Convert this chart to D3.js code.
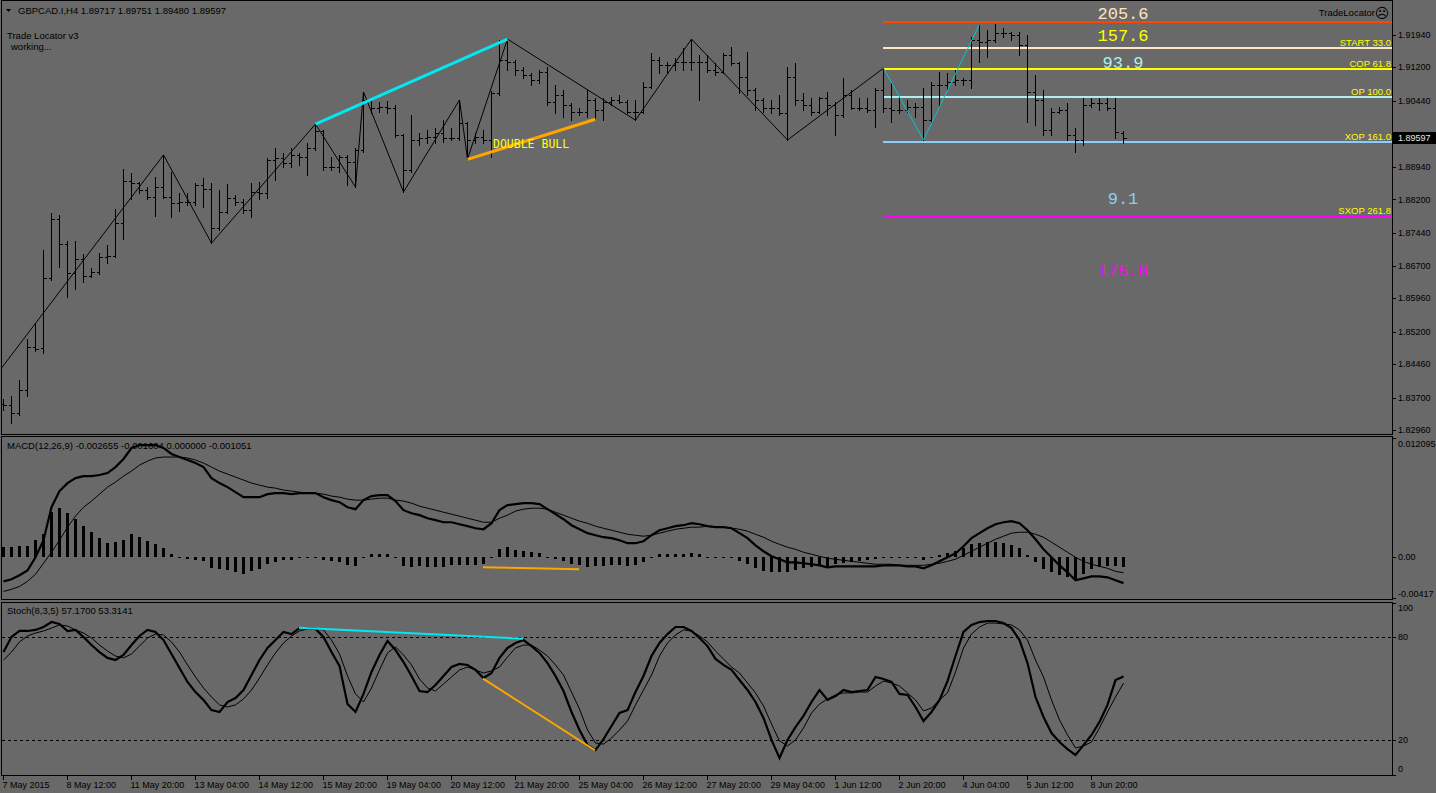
<!DOCTYPE html>
<html>
<head>
<meta charset="utf-8">
<title>GBPCAD.I,H4</title>
<script src="https://cdn.jsdelivr.net/npm/d3@7"></script>
<style>
  html, body { margin: 0; padding: 0; background: #696969; overflow: hidden; }
  svg { display: block; }
  text { font-family: "Liberation Sans", Arial, sans-serif; fill: #000; }
</style>
</head>
<body>
<svg id="chart" width="1436" height="793"></svg>
<script>
// ---------- price bars (H4) ----------
const opens = [
  1.8356,1.8353,1.8335,1.8388,1.8485,1.8483,1.8642,1.8776,1.8719,1.8653,
  1.8685,1.8646,1.8655,1.8689,1.8692,1.8767,1.8862,1.8857,1.8842,1.8826,
  1.8848,1.8826,1.8812,1.8814,1.8814,1.8853,1.8844,1.8755,1.8792,1.8823,
  1.8814,1.8796,1.8837,1.8835,1.8910,1.8914,1.8903,1.8921,1.8916,1.8937,
  1.8975,1.8894,1.8894,1.8916,1.8905,1.8932,1.9046,1.9028,1.9030,1.9028,
  1.8966,1.8887,1.8955,1.8960,1.8962,1.8971,1.8960,1.8960,1.8994,1.8955,
  1.8962,1.8955,1.9062,1.9137,1.9132,1.9114,1.9103,1.9091,1.9109,1.9041,
  1.9057,1.9034,1.9019,1.9019,1.9046,1.9023,1.9041,1.9046,1.9041,1.9019,
  1.9019,1.9075,1.9137,1.9125,1.9125,1.9132,1.9132,1.9132,1.9132,1.9114,
  1.9109,1.9148,1.9130,1.9098,1.9068,1.9046,1.9028,1.9028,1.9016,1.9098,
  1.9046,1.9034,1.9019,1.9050,1.9034,1.9012,1.9057,1.9028,1.9028,1.9023,
  1.9068,1.9028,1.9023,1.9023,1.9030,1.9030,1.9000,1.9080,1.9080,1.9087,
  1.9091,1.9091,1.9182,1.9177,1.9182,1.9198,1.9198,1.9193,1.9171,1.9064,
  1.9046,1.8978,1.9019,1.9023,1.8966,1.8955,1.9034,1.9039,1.9039,1.9028,
  1.89717
];
const highs = [
  1.8367,1.8374,1.8410,1.8503,1.8540,1.8705,1.8789,1.8785,1.8726,1.8726,
  1.8696,1.8664,1.8698,1.8717,1.8798,1.8889,1.8880,1.8860,1.8848,1.8871,
  1.8921,1.8882,1.8835,1.8835,1.8857,1.8869,1.8857,1.8842,1.8855,1.8830,
  1.8821,1.8857,1.8860,1.8914,1.8937,1.8926,1.8937,1.8926,1.8948,1.8991,
  1.8978,1.8916,1.8921,1.8921,1.8937,1.9064,1.9050,1.9041,1.9044,1.9034,
  1.8969,1.9012,1.8971,1.8978,1.8982,1.9000,1.8982,1.9046,1.8996,1.8971,
  1.8978,1.9066,1.9182,1.9184,1.9137,1.9121,1.9107,1.9114,1.9121,1.9080,
  1.9068,1.9039,1.9028,1.9068,1.9050,1.9050,1.9053,1.9057,1.9046,1.9046,
  1.9087,1.9152,1.9143,1.9132,1.9141,1.9164,1.9184,1.9148,1.9148,1.9130,
  1.9152,1.9166,1.9132,1.9155,1.9073,1.9050,1.9046,1.9057,1.9121,1.9130,
  1.9062,1.9050,1.9053,1.9064,1.9041,1.9096,1.9068,1.9050,1.9050,1.9073,
  1.9118,1.9084,1.9053,1.9046,1.9039,1.9073,1.9087,1.9109,1.9107,1.9114,
  1.9096,1.9189,1.9218,1.9205,1.9218,1.9209,1.9200,1.9200,1.9193,1.9103,
  1.9068,1.9028,1.9030,1.9039,1.8982,1.9050,1.9050,1.9050,1.9050,1.9050,
  1.89751
];
const lows = [
  1.8342,1.8313,1.8331,1.8374,1.8476,1.8471,1.8637,1.8667,1.8599,1.8617,
  1.8633,1.8644,1.8651,1.8676,1.8690,1.8730,1.8821,1.8835,1.8821,1.8782,
  1.8823,1.8780,1.8794,1.8807,1.8807,1.8803,1.8721,1.8751,1.8789,1.8807,
  1.8789,1.8780,1.8821,1.8823,1.8864,1.8894,1.8894,1.8898,1.8876,1.8932,
  1.8887,1.8887,1.8882,1.8853,1.8848,1.8928,1.9016,1.9019,1.9016,1.8962,
  1.8837,1.8882,1.8944,1.8948,1.8948,1.8950,1.8955,1.8955,1.8912,1.8948,
  1.8948,1.8916,1.9057,1.9114,1.9103,1.9096,1.9080,1.9084,1.9034,1.9016,
  1.9007,1.9000,1.9012,1.9007,1.9000,1.9000,1.9034,1.9039,1.9016,1.9000,
  1.9016,1.9073,1.9107,1.9109,1.9114,1.9114,1.9114,1.9046,1.9109,1.9103,
  1.9107,1.9125,1.9062,1.9057,1.9023,1.9019,1.9016,1.9012,1.8955,1.9034,
  1.9023,1.9012,1.9016,1.9012,1.8966,1.9007,1.9025,1.9023,1.9019,1.8985,
  1.9019,1.8996,1.9016,1.9019,1.9007,1.8955,1.8994,1.9030,1.9068,1.9080,
  1.9080,1.9073,1.9132,1.9143,1.9177,1.9189,1.9182,1.9148,1.8996,1.8989,
  1.8966,1.8966,1.9016,1.8955,1.8928,1.8944,1.9030,1.9023,1.9023,1.8960,
  1.89480
];
const closes = [
  1.8353,1.8335,1.8388,1.8485,1.8481,1.8642,1.8776,1.8719,1.8653,1.8685,
  1.8646,1.8655,1.8689,1.8692,1.8767,1.8862,1.8857,1.8842,1.8826,1.8848,
  1.8826,1.8812,1.8814,1.8814,1.8853,1.8844,1.8755,1.8792,1.8823,1.8814,
  1.8796,1.8837,1.8835,1.8910,1.8914,1.8903,1.8921,1.8916,1.8937,1.8975,
  1.8894,1.8894,1.8916,1.8905,1.8932,1.9046,1.9028,1.9030,1.9028,1.8966,
  1.8887,1.8955,1.8960,1.8962,1.8971,1.8960,1.8960,1.8994,1.8955,1.8962,
  1.8955,1.9062,1.9137,1.9132,1.9114,1.9103,1.9091,1.9109,1.9041,1.9057,
  1.9034,1.9019,1.9019,1.9046,1.9023,1.9041,1.9046,1.9041,1.9019,1.9019,
  1.9075,1.9137,1.9125,1.9125,1.9132,1.9132,1.9132,1.9132,1.9114,1.9109,
  1.9148,1.9130,1.9098,1.9068,1.9046,1.9028,1.9028,1.9016,1.9098,1.9046,
  1.9034,1.9019,1.9050,1.9034,1.9012,1.9057,1.9028,1.9028,1.9023,1.9068,
  1.9028,1.9023,1.9023,1.9030,1.9030,1.9000,1.9080,1.9080,1.9087,1.9091,
  1.9091,1.9182,1.9177,1.9182,1.9198,1.9198,1.9193,1.9171,1.9064,1.9046,
  1.8978,1.9019,1.9023,1.8966,1.8955,1.9034,1.9039,1.9039,1.9028,1.8973,
  1.89597
];

// time labels, one every 8 bars
const timeLabels = ["7 May 2015","8 May 12:00","11 May 20:00","13 May 04:00","14 May 12:00",
  "15 May 20:00","19 May 04:00","20 May 12:00","21 May 20:00","25 May 04:00","26 May 12:00",
  "27 May 20:00","29 May 04:00","1 Jun 12:00","2 Jun 20:00","4 Jun 04:00","5 Jun 12:00","8 Jun 20:00"];
// 1.89700 sits under the bid box, so only its tick mark shows
const priceTicks = [1.91940,1.91200,1.90440,1.89700,1.88940,1.88200,1.87440,1.86700,1.85960,1.85200,1.84460,1.83700,1.82960];
const hiddenPriceTick = 1.89700;

// zigzag pivots [bar, price]; first one lies left of the window
const zigzag = [[-7,1.8276],[20,1.8921],[26,1.8721],[39,1.8991],[44,1.8848],[45,1.9064],[50,1.8837],
  [57,1.9046],[58,1.8912],[63,1.9184],[79,1.9000],[86,1.9184],[98,1.8955],[110,1.9118]];
const patternLegs = [[110,1.9118],[115,1.8955],[122,1.9218]];
const priceCyan = [[39,1.8991],[63,1.9184]];
const priceOrange = [[58,1.8911],[74,1.9002]];

// Trade Locator levels
const levelPrices = [1.92228,1.91645,1.91161,1.90526,1.89504,1.87824];
const levelNames = ["","START 33.0","COP 61.8","OP 100.0","XOP 161.0","SXOP 261.8"];
const levelColors = ["#ff4500","#ffe4c4","#ffff00","#afeeee","#87cefa","#ff00ff"];
const levelStartBar = 110;
const bigTexts = ["205.6","157.6","93.9","9.1","175.8"];
const bigTextPrices = [1.92296,1.91804,1.91184,1.88097,1.86463];
const bigTextColors = ["#ffe4c4","#ffff00","#afeeee","#87cefa","#ff00ff"];

// MACD(12,26,9)
const macdMain = [
  -0.00248,-0.00227,-0.00186,-0.00136,-0.00003,0.00170,0.00506,0.00670,0.00751,0.00802,
  0.00822,0.00822,0.00833,0.00853,0.00914,0.00996,0.01108,0.01138,0.01138,0.01138,
  0.01108,0.01047,0.01016,0.00985,0.00955,0.00914,0.00802,0.00751,0.00710,0.00659,
  0.00608,0.00608,0.00608,0.00639,0.00649,0.00649,0.00639,0.00649,0.00649,0.00649,
  0.00608,0.00578,0.00557,0.00506,0.00486,0.00578,0.00619,0.00629,0.00629,0.00568,
  0.00476,0.00445,0.00425,0.00394,0.00374,0.00353,0.00353,0.00333,0.00313,0.00292,
  0.00282,0.00343,0.00476,0.00527,0.00537,0.00547,0.00547,0.00537,0.00486,0.00435,
  0.00384,0.00323,0.00282,0.00242,0.00221,0.00201,0.00191,0.00170,0.00140,0.00140,
  0.00160,0.00221,0.00272,0.00292,0.00313,0.00323,0.00343,0.00333,0.00313,0.00303,
  0.00303,0.00292,0.00242,0.00191,0.00119,0.00058,0.00007,-0.00023,-0.00054,-0.00054,
  -0.00064,-0.00074,-0.00085,-0.00105,-0.00095,-0.00095,-0.00095,-0.00095,-0.00095,-0.00095,
  -0.00085,-0.00085,-0.00085,-0.00095,-0.00095,-0.00115,-0.00085,-0.00044,-0.00003,0.00038,
  0.00109,0.00191,0.00242,0.00292,0.00333,0.00353,0.00364,0.00343,0.00272,0.00180,
  0.00078,-0.00003,-0.00085,-0.00156,-0.00237,-0.00217,-0.00197,-0.00197,-0.00207,-0.00237,
  -0.002655
];
const macdSignal = [
  -0.00350,-0.00329,-0.00299,-0.00248,-0.00176,-0.00064,0.00048,0.00170,0.00303,0.00415,
  0.00506,0.00568,0.00639,0.00710,0.00761,0.00822,0.00873,0.00934,0.00975,0.01006,
  0.01016,0.01016,0.01016,0.01006,0.00985,0.00955,0.00914,0.00873,0.00843,0.00812,
  0.00782,0.00751,0.00731,0.00710,0.00700,0.00680,0.00670,0.00659,0.00649,0.00649,
  0.00639,0.00619,0.00608,0.00588,0.00578,0.00578,0.00588,0.00598,0.00598,0.00578,
  0.00568,0.00547,0.00517,0.00496,0.00476,0.00455,0.00435,0.00415,0.00394,0.00374,
  0.00353,0.00353,0.00394,0.00425,0.00466,0.00486,0.00496,0.00496,0.00486,0.00455,
  0.00425,0.00394,0.00364,0.00343,0.00313,0.00292,0.00272,0.00252,0.00231,0.00221,
  0.00211,0.00221,0.00242,0.00262,0.00282,0.00292,0.00303,0.00303,0.00313,0.00303,
  0.00303,0.00292,0.00282,0.00262,0.00231,0.00201,0.00160,0.00129,0.00099,0.00078,
  0.00048,0.00028,0.00007,-0.00013,-0.00023,-0.00034,-0.00044,-0.00054,-0.00064,-0.00074,
  -0.00074,-0.00074,-0.00085,-0.00085,-0.00085,-0.00085,-0.00074,-0.00064,-0.00044,-0.00023,
  0.00017,0.00058,0.00099,0.00140,0.00180,0.00211,0.00242,0.00252,0.00252,0.00231,
  0.00201,0.00150,0.00099,0.00048,-0.00003,-0.00044,-0.00074,-0.00095,-0.00115,-0.00146,
  -0.001604
];
const macdTicks = [0.012095, 0, -0.00417];
const macdOrange = [[60,-0.00105],[72,-0.00125]];

// Stoch(8,3,5)
const stochMain = [
  71.4,80.2,83.7,83.7,84.3,86.0,88.9,87.8,83.7,84.3,
  80.2,75.5,71.4,68.0,66.8,69.7,75.5,80.8,84.3,83.1,
  78.4,70.3,62.1,54.0,48.1,43.5,37.6,36.5,42.3,44.6,
  49.3,58.0,66.8,73.8,78.4,83.1,81.9,85.4,85.4,84.9,
  80.2,71.4,63.3,41.1,36.5,47.0,59.8,69.7,77.9,72.6,
  65.6,57.5,48.7,48.1,52.2,57.5,62.7,64.5,63.9,61.0,
  56.3,59.2,68.0,73.8,76.7,78.4,74.9,70.9,65.0,57.5,
  48.7,36.5,26.0,17.2,14.3,20.7,28.3,35.9,37.6,48.1,
  57.5,69.1,76.7,81.9,86.0,86.0,83.7,79.6,74.9,67.4,
  63.9,61.0,55.1,49.3,42.3,33.0,20.2,9.7,20.2,27.7,
  34.2,42.3,49.3,43.5,45.8,49.3,48.1,48.7,49.3,56.9,
  55.7,54.0,47.0,46.4,39.4,31.2,36.5,43.5,54.5,69.1,
  83.1,87.2,88.9,89.5,89.5,88.3,85.4,78.4,65.0,45.2,
  33.6,24.2,19.0,14.9,11.4,17.2,23.1,30.7,40.6,55.1,
  57.17
];
const stochSignal = [
  66.8,71.4,77.3,80.8,82.5,83.7,85.4,87.2,86.6,84.3,
  82.5,79.6,75.5,72.0,69.1,68.0,70.3,74.9,79.6,81.9,
  81.4,77.3,71.4,63.9,56.9,50.5,45.2,40.6,39.4,40.6,
  44.1,49.3,56.3,63.9,70.9,76.7,80.8,83.7,84.9,84.9,
  84.3,78.4,70.3,57.5,47.0,42.3,50.5,61.0,70.9,74.4,
  69.7,63.9,55.7,50.5,48.7,52.8,56.9,61.0,62.7,61.0,
  59.2,60.4,62.7,68.5,73.8,75.5,75.5,72.6,69.1,63.9,
  58.0,48.1,38.2,26.0,18.4,17.8,21.3,26.0,31.2,40.6,
  49.3,58.0,69.1,76.7,81.4,84.3,83.7,80.8,77.3,72.0,
  67.4,62.7,59.2,53.4,47.6,40.0,29.5,19.6,16.7,20.2,
  27.2,35.9,41.1,44.1,46.4,47.6,47.6,48.1,48.1,51.6,
  54.5,53.4,51.6,47.6,43.5,37.1,38.8,43.5,47.6,59.8,
  73.8,81.9,86.0,88.3,88.3,87.8,87.2,84.3,78.4,66.8,
  56.9,43.5,31.8,23.1,15.5,16.7,19.0,27.2,36.5,45.2,
  53.3141
];
const stochTicks = [100, 80, 20, 0];
const stochLevels = [80, 20];
const stochCyan = [[37,85.6],[65,79.2]];
const stochOrange = [[60,55.9],[74,14.2]];


// ---------- layout ----------
const svg = d3.select("#chart");
const right = 1392;
const panels = {
  main:  {top: 0, bottom: 434},
  macd:  {top: 436, bottom: 599},
  stoch: {top: 602, bottom: 775}
};

const x = d3.scaleLinear().domain([0, 140]).range([3, 1123]);
const yPrice = d3.scaleLinear().domain([1.8296, 1.9194]).range([430.3, 34.7]);
const yMacd = d3.scaleLinear().domain([-0.00417, 0.012095]).range([598, 438]);
const yStoch = d3.scaleLinear().domain([0, 100]).range([774.6, 603]);

const crisp = (v) => Math.round(v) + 0.5;

svg.append("rect").attr("width", 1436).attr("height", 793).attr("fill", "#696969");

let defs = svg.append("defs");
Object.entries(panels).forEach(([name, p]) => {
  defs.append("clipPath").attr("id", "clip-" + name)
    .append("rect").attr("x", 2).attr("y", p.top + 1)
    .attr("width", right - 2).attr("height", p.bottom - p.top - 1);
});

let gMain = svg.append("g").attr("clip-path", "url(#clip-main)");
let gMacd = svg.append("g").attr("clip-path", "url(#clip-macd)");
let gStoch = svg.append("g").attr("clip-path", "url(#clip-stoch)");


// ---------- main window ----------
// Trade Locator levels
levelPrices.forEach((p, k) => {
  gMain.append("line")
    .attr("x1", x(levelStartBar)).attr("x2", right)
    .attr("y1", Math.round(yPrice(p))).attr("y2", Math.round(yPrice(p)))
    .attr("stroke", levelColors[k]).attr("stroke-width", 2);
  if (levelNames[k]) {
    gMain.append("text")
      .attr("x", right - 1).attr("y", Math.round(yPrice(p)) - 2)
      .attr("text-anchor", "end").attr("font-size", 9.5)
      .style("fill", "#ffff00").text(levelNames[k]);
  }
});

bigTexts.forEach((t, k) => {
  gMain.append("text")
    .attr("x", x(140)).attr("y", yPrice(bigTextPrices[k]))
    .attr("text-anchor", "middle")
    .style("font-family", '"Liberation Mono", "DejaVu Sans Mono", monospace')
    .attr("font-size", 17).style("fill", bigTextColors[k]).text(t);
});

// zigzag
let priceLine = d3.line().x(d => x(d[0]) + 0.5).y(d => yPrice(d[1]));
gMain.append("path").attr("d", priceLine(zigzag))
  .attr("fill", "none").attr("stroke", "#000").attr("stroke-width", 1);

// OHLC bars
gMain.append("g").attr("shape-rendering", "crispEdges")
  .selectAll("path").data(opens).join("path")
  .attr("d", (o, i) => {
    let cx = x(i) + 0.5;
    let yo = crisp(yPrice(o)), yc = crisp(yPrice(closes[i]));
    return `M${cx},${Math.round(yPrice(highs[i]))}V${Math.round(yPrice(lows[i])) + 1}` +
      `M${cx - 3},${yo}H${cx}M${cx},${yc}H${cx + 3}`;
  })
  .attr("stroke", "#000").attr("stroke-width", 1).attr("fill", "none");

gMain.append("path").attr("d", priceLine(patternLegs))
  .attr("fill", "none").attr("stroke", "#00c8d2").attr("stroke-width", 1);
gMain.append("path").attr("d", priceLine(priceCyan))
  .attr("fill", "none").attr("stroke", "#00e8f0").attr("stroke-width", 3);
gMain.append("path").attr("d", priceLine(priceOrange))
  .attr("fill", "none").attr("stroke", "#ffa500").attr("stroke-width", 3);

gMain.append("text")
  .attr("x", x(61) + 2).attr("y", yPrice(1.8937))
  .style("font-family", '"DejaVu Sans Mono", "Liberation Mono", monospace')
  .attr("font-size", 11.5).style("fill", "#ffff00").text("DOUBLE BULL");

// header texts
svg.append("path").attr("d", "M6,9L11,9L8.5,12Z").attr("fill", "#000");
svg.append("text").attr("x", 18).attr("y", 14).attr("font-size", 9.5)
  .text("GBPCAD.I,H4  1.89717 1.89751 1.89480 1.89597");
svg.append("text").attr("x", 7).attr("y", 39).attr("font-size", 9.5).text("Trade Locator v3");
svg.append("text").attr("x", 11).attr("y", 50).attr("font-size", 9.5).text("working...");
svg.append("text").attr("x", 1375).attr("y", 16).attr("font-size", 9.5)
  .attr("text-anchor", "end").text("TradeLocator");
svg.append("text").attr("x", 1382).attr("y", 17.5).attr("font-size", 14)
  .attr("text-anchor", "middle").style("font-family", '"DejaVu Sans", sans-serif').text("\u2639");


// ---------- MACD window ----------
let macdLine = d3.line().x((d, i) => x(i) + 0.5).y(d => yMacd(d));
// histogram = main - signal
gMacd.append("g").attr("shape-rendering", "crispEdges")
  .selectAll("rect").data(macdMain).join("rect")
  .attr("x", (d, i) => x(i) - 1)
  .attr("width", 3)
  .attr("y", (d, i) => Math.round(Math.min(yMacd(0), yMacd(d - macdSignal[i]))))
  .attr("height", (d, i) => Math.max(1, Math.round(Math.abs(yMacd(d - macdSignal[i]) - yMacd(0)))))
  .attr("fill", "#000");
gMacd.append("path").attr("d", macdLine(macdSignal))
  .attr("fill", "none").attr("stroke", "#000").attr("stroke-width", 1);
gMacd.append("path").attr("d", macdLine(macdMain))
  .attr("fill", "none").attr("stroke", "#000").attr("stroke-width", 2.2);
gMacd.append("path")
  .attr("d", d3.line().x(d => x(d[0])).y(d => yMacd(d[1]))(macdOrange))
  .attr("fill", "none").attr("stroke", "#ffa500").attr("stroke-width", 2);
svg.append("text").attr("x", 7).attr("y", 449).attr("font-size", 9.5)
  .text("MACD(12,26,9) -0.002655 -0.001604 0.000000 -0.001051");


// ---------- Stoch window ----------
let stochLine = d3.line().x((d, i) => x(i) + 0.5).y(d => yStoch(d));
stochLevels.forEach(v => {
  gStoch.append("line").attr("x1", 2).attr("x2", right)
    .attr("y1", crisp(yStoch(v))).attr("y2", crisp(yStoch(v)))
    .attr("stroke", "#000").attr("stroke-dasharray", "3,3");
});
gStoch.append("path").attr("d", stochLine(stochSignal))
  .attr("fill", "none").attr("stroke", "#000").attr("stroke-width", 1);
gStoch.append("path").attr("d", stochLine(stochMain))
  .attr("fill", "none").attr("stroke", "#000").attr("stroke-width", 2.2);
let stochSeg = d3.line().x(d => x(d[0])).y(d => yStoch(d[1]));
gStoch.append("path").attr("d", stochSeg(stochCyan))
  .attr("fill", "none").attr("stroke", "#00e8f0").attr("stroke-width", 2);
gStoch.append("path").attr("d", stochSeg(stochOrange))
  .attr("fill", "none").attr("stroke", "#ffa500").attr("stroke-width", 2);
svg.append("text").attr("x", 7).attr("y", 614).attr("font-size", 9.5)
  .text("Stoch(8,3,5) 57.1700 53.3141");


// ---------- frames ----------
Object.values(panels).forEach(p => {
  svg.append("rect").attr("x", 1.5).attr("y", p.top + 0.5)
    .attr("width", right - 1).attr("height", p.bottom - p.top)
    .attr("fill", "none").attr("stroke", "#000").attr("shape-rendering", "crispEdges");
});


// ---------- axes ----------
let axisG = svg.append("g").attr("shape-rendering", "crispEdges");
let rightLabel = (yv, txt, dy) => {
  axisG.append("line").attr("x1", right + 1).attr("x2", right + 4)
    .attr("y1", crisp(yv)).attr("y2", crisp(yv)).attr("stroke", "#000");
  if (txt === null) return;
  axisG.append("text").attr("x", right + 6).attr("y", yv + dy)
    .attr("dy", "0.35em").attr("font-size", 9).text(txt);
};
priceTicks.forEach(v => rightLabel(yPrice(v), v === hiddenPriceTick ? null : v.toFixed(5), 0));
macdTicks.forEach((v, k) => {
  let dy = k === 0 ? 6 : (k === macdTicks.length - 1 ? -4 : 0);
  let txt = v === 0 ? "0.00" : (k === 0 ? v.toFixed(6) : v.toFixed(5));
  rightLabel(yMacd(v), txt, dy);
});
stochTicks.forEach(v => {
  let dy = v === 100 ? 5 : (v === 0 ? -6 : 0);
  rightLabel(yStoch(v), String(v), dy);
});

// current price marker
let yBid = yPrice(closes[closes.length - 1]);
svg.append("rect").attr("x", right + 1).attr("y", Math.round(yBid) - 6)
  .attr("width", 1436 - right - 1).attr("height", 12).attr("fill", "#000");
svg.append("text").attr("x", right + 6).attr("y", yBid).attr("dy", "0.35em")
  .attr("font-size", 9).style("fill", "#e8e8e8").text(closes[closes.length - 1].toFixed(5));

// time axis
timeLabels.forEach((t, k) => {
  let xi = crisp(x(k * 8));
  axisG.append("line").attr("x1", xi).attr("x2", xi)
    .attr("y1", panels.stoch.bottom + 1).attr("y2", panels.stoch.bottom + 5).attr("stroke", "#000");
  axisG.append("text").attr("x", xi - 1).attr("y", 788).attr("font-size", 9).text(t);
});
</script>
</body>
</html>
